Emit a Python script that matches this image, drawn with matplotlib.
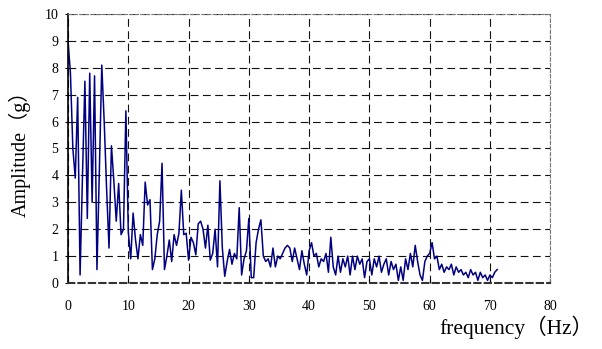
import numpy as np
import matplotlib.pyplot as plt

# frequency axis, 0.4 Hz step
freq = np.arange(0, 179) * 0.4

amp_0_10 = [9.0, 7.8, 5.0, 3.9, 6.9, 0.3, 4.0, 7.5, 2.4, 7.8,
            3.0, 7.7, 0.5, 4.2, 8.1, 6.0, 3.5, 1.3, 5.1, 3.8,
            2.3, 3.7, 1.8, 2.0, 6.4]
amp_10_20 = [1.9, 0.9, 2.6, 1.6, 0.9, 1.8, 1.4, 3.75, 2.9, 3.1,
             0.5, 0.9, 1.8, 2.3, 4.45, 0.5, 1.0, 1.6, 0.8, 1.8,
             1.4, 1.85, 3.45, 1.8, 1.85]
amp_20_30 = [0.85, 1.7, 1.5, 1.05, 2.2, 2.3, 2.0, 1.3, 2.15, 0.85,
             1.1, 2.0, 0.6, 3.8, 1.3, 0.25, 0.8, 1.25, 0.7, 1.1,
             0.9, 2.8, 0.3, 0.9, 1.2]
amp_30_40 = [2.4, 0.2, 0.2, 1.5, 2.0, 2.35, 1.0, 0.8, 0.9, 0.6,
             1.3, 0.6, 1.0, 0.9, 1.1, 1.3, 1.4, 1.3, 0.8, 1.3,
             0.9, 0.5, 1.2, 0.7, 0.3]
amp_40_50 = [1.2, 1.5, 1.0, 1.1, 0.6, 0.9, 0.8, 1.1, 0.4, 1.7,
             0.6, 0.3, 1.0, 0.4, 0.9, 0.6, 1.0, 0.3, 1.0, 0.5,
             1.0, 0.7, 0.9, 0.2, 0.8]
amp_50_60 = [0.9, 0.3, 0.9, 0.6, 1.0, 0.4, 0.7, 0.9, 0.3, 0.8,
             0.5, 0.7, 0.1, 0.6, 0.1, 0.9, 0.5, 1.1, 0.6, 1.4,
             0.8, 0.3, 0.1, 0.8, 1.0]
amp_60_71 = [1.1, 1.5, 0.9, 1.0, 0.5, 0.7, 0.4, 0.6, 0.5, 0.7,
             0.3, 0.6, 0.4, 0.5, 0.3, 0.4, 0.2, 0.5, 0.3, 0.4,
             0.1, 0.4, 0.2, 0.3, 0.1, 0.3, 0.2, 0.4, 0.5]

amp = amp_0_10 + amp_10_20 + amp_20_30 + amp_30_40 + amp_40_50 + amp_50_60 + amp_60_71

x_ticks = [0, 10, 20, 30, 40, 50, 60, 70, 80]
y_ticks = list(range(0, 11))

label_font = ['Liberation Serif', 'Noto Sans CJK SC']

fig = plt.figure(figsize=(6.02, 3.49), dpi=100)
ax = fig.add_axes([0.113, 0.189, 0.801, 0.771])

ax.plot(freq[:len(amp)], amp, color='#000080', lw=1.1)

ax.set_xlim(0, 80)
ax.set_ylim(0, 10)
ax.set_xticks(x_ticks)
ax.set_yticks(y_ticks)
ax.grid(True, linestyle=(0, (7, 4)), color='#111111', lw=0.8)

for s in ['top', 'right']:
    ax.spines[s].set_linestyle((0, (3, 2)))
    ax.spines[s].set_color('#777777')
ax.spines['bottom'].set_linestyle((0, (3, 2)))
ax.spines['bottom'].set_color('#333333')
ax.spines['left'].set_color('black')
ax.spines['bottom'].set_linewidth(1.5)
ax.spines['left'].set_linewidth(1.2)

ax.tick_params(axis='x', direction='in', length=3, pad=12)
ax.tick_params(axis='y', direction='out', length=2, pad=5)
for lbl in ax.get_xticklabels() + ax.get_yticklabels():
    lbl.set_family(label_font)
    lbl.set_fontsize(10)

ax.set_ylabel('Amplitude（g）', family=label_font, fontsize=14.5, labelpad=10)
fig.text(0.985, 0.03, 'frequency（Hz）', family=label_font, fontsize=15.5, ha='right', va='bottom')

fig.savefig('out.png', dpi=100)
